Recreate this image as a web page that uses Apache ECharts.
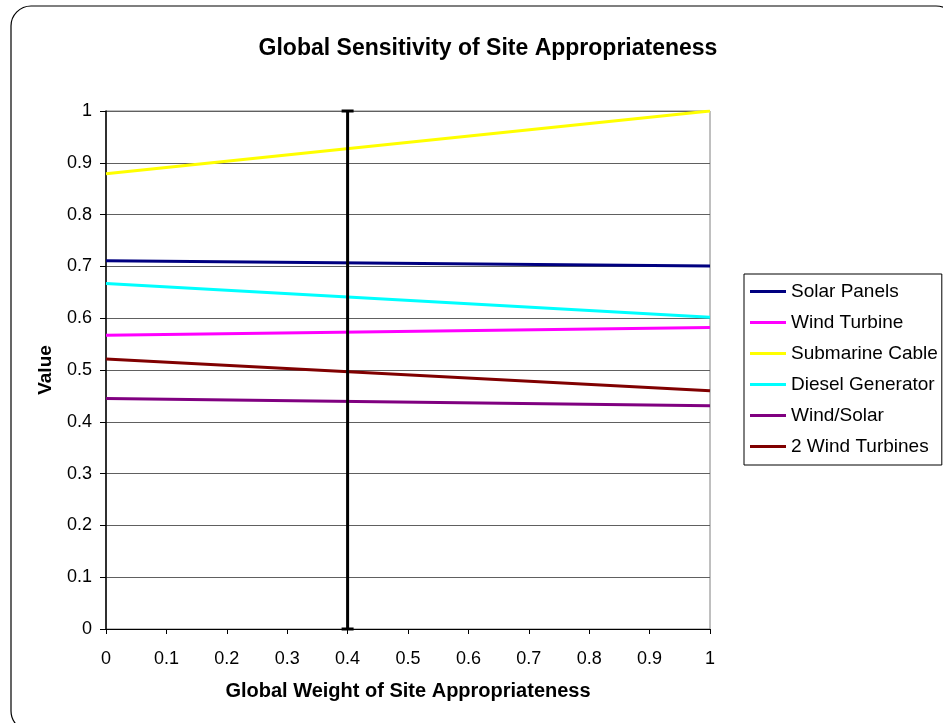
<!DOCTYPE html>
<html>
<head>
<meta charset="utf-8">
<script src="https://cdn.jsdelivr.net/npm/echarts@6/dist/echarts.min.js"></script>
<style>html,body{margin:0;padding:0;background:#fff;}#c{width:943px;height:723px;}</style>
</head>
<body>
<div id="c"></div>
<script>
const weights = [0, 1];
const solarPanels = [0.711, 0.701];
const windTurbine = [0.567, 0.582];
const submarineCable = [0.879, 1.0];
const dieselGenerator = [0.667, 0.602];
const windSolar = [0.445, 0.431];
const twoWindTurbines = [0.521, 0.460];
const currentWeight = 0.4;
const markerRange = [0, 1];

const seriesDefs = [
  {name: 'Solar Panels', data: solarPanels, color: '#000080'},
  {name: 'Wind Turbine', data: windTurbine, color: '#FF00FF'},
  {name: 'Submarine Cable', data: submarineCable, color: '#FFFF00'},
  {name: 'Diesel Generator', data: dieselGenerator, color: '#00FFFF'},
  {name: 'Wind/Solar', data: windSolar, color: '#800080'},
  {name: '2 Wind Turbines', data: twoWindTurbines, color: '#800000'}
];

const font = 'Arial, "Liberation Sans", sans-serif';
const chart = echarts.init(document.getElementById('c'), null, {renderer: 'canvas'});

const series = seriesDefs.map(s => ({
  name: s.name,
  type: 'line',
  data: weights.map((w, i) => [w, s.data[i]]),
  showSymbol: false,
  symbol: 'none',
  lineStyle: {color: s.color, width: 3},
  itemStyle: {color: s.color},
  z: 3,
  animation: false
}));
series.push({
  name: 'marker',
  type: 'line',
  data: markerRange.map(v => [currentWeight, v]),
  symbol: 'rect',
  symbolSize: [12, 3],
  showSymbol: true,
  lineStyle: {color: '#000', width: 3},
  itemStyle: {color: '#000'},
  z: 4,
  animation: false
});

chart.setOption({
  animation: false,
  backgroundColor: '#fff',
  textStyle: {fontFamily: font},
  graphic: [{
    type: 'rect',
    shape: {x: 11, y: 6, width: 945, height: 725, r: 20},
    style: {fill: 'none', stroke: '#000', lineWidth: 1.2},
    z: 0
  }],
  title: {
    text: 'Global Sensitivity of Site Appropriateness',
    left: 483, top: 32, textAlign: 'center',
    textStyle: {fontFamily: font, fontSize: 23, fontWeight: 'bold', color: '#000'}
  },
  legend: {
    orient: 'vertical',
    left: 744, top: 274,
    padding: [8, 4, 9, 6],
    itemWidth: 36, itemHeight: 3, itemGap: 12,
    icon: 'rect',
    borderColor: '#000', borderWidth: 1,
    data: seriesDefs.map(s => s.name),
    textStyle: {fontFamily: font, fontSize: 19, color: '#000', lineHeight: 19}
  },
  grid: {
    left: 106, top: 111, width: 604, height: 518,
    show: true, borderColor: '#808080', borderWidth: 1, containLabel: false
  },
  xAxis: {
    type: 'value', min: 0, max: 1, interval: 0.1,
    name: 'Global Weight of Site Appropriateness',
    nameLocation: 'middle', nameGap: 52,
    nameTextStyle: {fontFamily: font, fontSize: 20, fontWeight: 'bold', color: '#000'},
    axisLine: {show: true, lineStyle: {color: '#000', width: 1}},
    axisTick: {show: true, length: 5, lineStyle: {color: '#000'}},
    axisLabel: {fontFamily: font, fontSize: 18, color: '#000', margin: 21,
      formatter: v => String(Math.round(v * 10) / 10)},
    splitLine: {show: false}
  },
  yAxis: {
    type: 'value', min: 0, max: 1, interval: 0.1,
    name: 'Value',
    nameLocation: 'middle', nameGap: 51,
    nameTextStyle: {fontFamily: font, fontSize: 19, fontWeight: 'bold', color: '#000'},
    axisLine: {show: true, lineStyle: {color: '#000', width: 1.5}},
    axisTick: {show: true, length: 6, lineStyle: {color: '#000'}},
    axisLabel: {fontFamily: font, fontSize: 18, color: '#000', margin: 14,
      formatter: v => String(Math.round(v * 10) / 10)},
    splitLine: {show: true, lineStyle: {color: '#606060', width: 1}}
  },
  series: series
});
</script>
</body>
</html>
